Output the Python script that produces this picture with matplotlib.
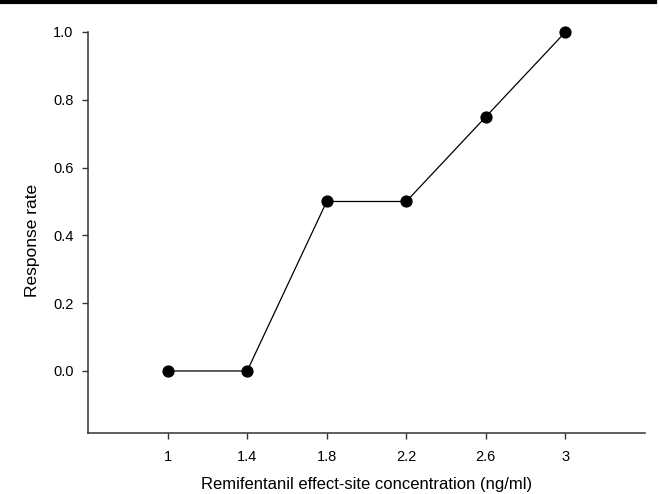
import matplotlib
matplotlib.use("Agg")
import matplotlib.pyplot as plt
from matplotlib.lines import Line2D

concentration = [1.0, 1.4, 1.8, 2.2, 2.6, 3.0]
response_rate = [0.0, 0.0, 0.5, 0.5, 0.75, 1.0]
x_ticks = [1.0, 1.4, 1.8, 2.2, 2.6, 3.0]
x_tick_labels = ["1", "1.4", "1.8", "2.2", "2.6", "3"]
y_ticks = [0.0, 0.2, 0.4, 0.6, 0.8, 1.0]

plt.rcParams["font.family"] = ["Liberation Sans", "DejaVu Sans"]

W, H = 659, 494
fig = plt.figure(figsize=(W / 100, H / 100), dpi=100)
# axes box in pixels: left 88, right 645, top 32, bottom 433
ax = fig.add_axes([88 / W, (H - 433) / H, (645 - 88) / W, (433 - 32) / H])

ax.plot(concentration, response_rate, color="black", lw=0.9,
        marker="o", markersize=7.8, markerfacecolor="black",
        markeredgecolor="black", clip_on=False, zorder=3)

ax.set_xlim(0.6, 3.4)
ax.set_ylim(-0.183, 1.0)
ax.set_xticks(x_ticks)
ax.set_xticklabels(x_tick_labels)
ax.set_yticks(y_ticks)
ax.set_yticklabels([f"{v:.1f}" for v in y_ticks])

for side in ["top", "right"]:
    ax.spines[side].set_visible(False)
for side in ["left", "bottom"]:
    ax.spines[side].set_color("#333333")
    ax.spines[side].set_linewidth(1.1)

ax.tick_params(direction="out", length=4, width=1.0, color="#333333",
               labelsize=10.5)
ax.tick_params(axis="y", pad=6.5)
ax.tick_params(axis="x", pad=8.5)

ax.set_xlabel("Remifentanil effect-site concentration (ng/ml)", fontsize=12, labelpad=9)
ax.set_ylabel("Response rate", fontsize=12.5)
ax.yaxis.set_label_coords(-0.086, 0.48)

# thick rule along the top edge of the figure
fig.add_artist(Line2D([0, 655 / W], [1 - 2.5 / H, 1 - 2.5 / H],
                      transform=fig.transFigure, color="black", lw=3))

fig.savefig("out.png", dpi=100)
